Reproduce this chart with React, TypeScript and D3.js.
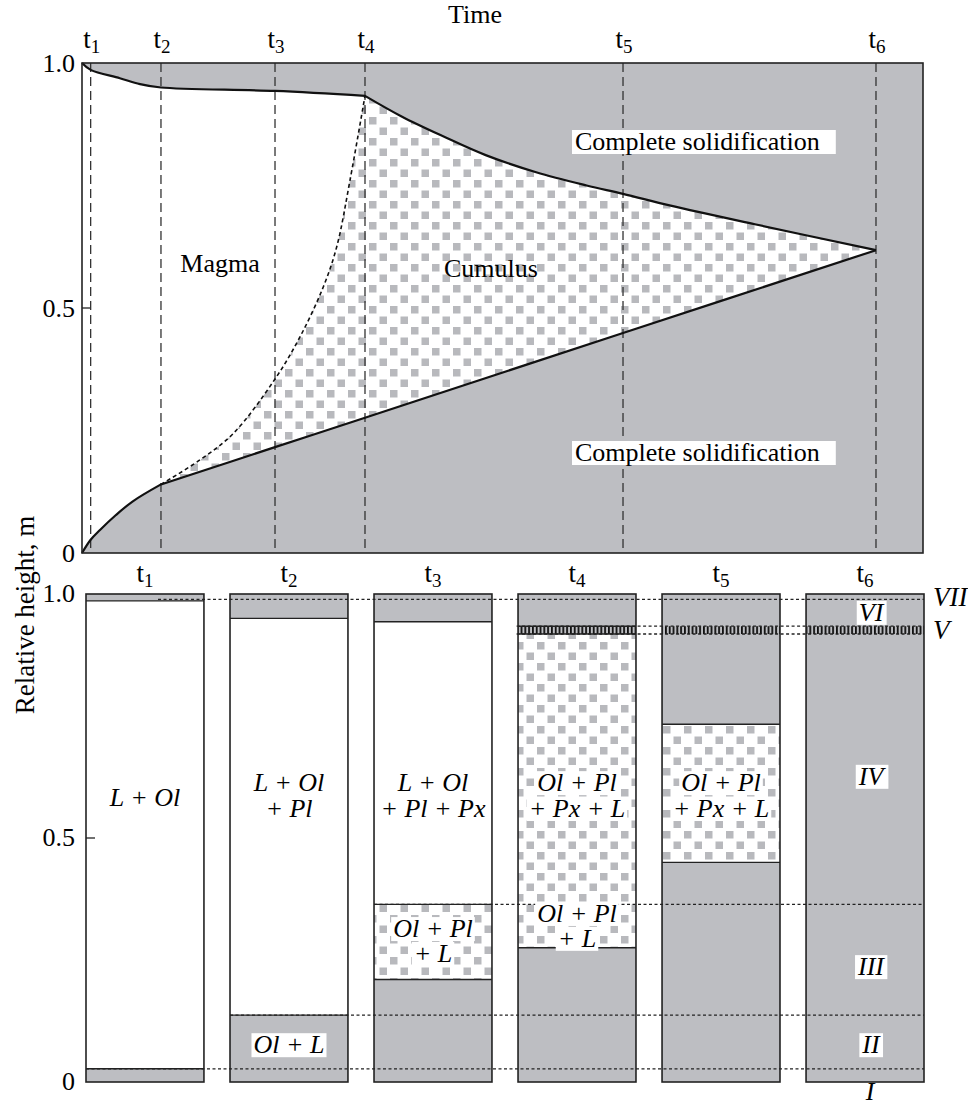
import React, { useEffect, useRef } from 'react';
import * as d3 from 'd3';

// time marks (arbitrary units, 0..100 across the top panel)
const tNames = ['1', '2', '3', '4', '5', '6'];
const tTimes = [1.03, 9.39, 22.95, 33.65, 64.33, 94.41];

// roof solidification front
const roofEarly = [[0, 1.0], [1.03, 0.986], [4.5, 0.969], [6.9, 0.957], [9.39, 0.95], [22.95, 0.943], [33.65, 0.933]];
const roofLate = [[33.65, 0.933], [38, 0.891], [43, 0.85], [48, 0.812], [54, 0.777], [60, 0.75], [64.33, 0.733], [70, 0.709], [80, 0.671], [94.41, 0.618]];
// floor solidification front
const floorEarly = [[0, 0], [1.03, 0.027], [2.14, 0.047], [4.0, 0.077], [6.0, 0.105], [9.39, 0.14]];
const floorLate = [[9.39, 0.14], [22.95, 0.216], [33.65, 0.276], [64.33, 0.449], [94.41, 0.618]];
// cumulus top (dashed)
const cumulusFront = [[9.39, 0.14], [14.03, 0.19], [17.99, 0.244], [22.95, 0.355], [25.92, 0.441], [28.69, 0.543], [30.29, 0.625], [31.87, 0.761], [33.65, 0.933]];

// columns: [from, to, kind]  g = solid, w = magma, c = cumulus, h = layer V, s = layer V overlay
const columns = [
  [[0, 0.027, 'g'], [0.027, 0.986, 'w'], [0.986, 1, 'g']],
  [[0, 0.137, 'g'], [0.137, 0.95, 'w'], [0.95, 1, 'g']],
  [[0, 0.21, 'g'], [0.21, 0.364, 'c'], [0.364, 0.943, 'w'], [0.943, 1, 'g']],
  [[0, 0.275, 'g'], [0.275, 0.918, 'c'], [0.918, 0.934, 'h'], [0.934, 1, 'g']],
  [[0, 0.45, 'g'], [0.45, 0.733, 'c'], [0.733, 1, 'g'], [0.918, 0.934, 's']],
  [[0, 1, 'g'], [0.918, 0.934, 's']],
];

// column labels: [column, text, relative height of baseline, white background]
const colLabels: [number, string, number, boolean][] = [
  [0, 'L + Ol', 0.566, false],
  [1, 'L + Ol', 0.596, false], [1, '+ Pl', 0.543, false], [1, 'Ol + L', 0.059, true],
  [2, 'L + Ol', 0.596, false], [2, '+ Pl + Px', 0.543, false], [2, 'Ol + Pl', 0.297, true], [2, '+ L', 0.246, true],
  [3, 'Ol + Pl', 0.596, true], [3, '+ Px + L', 0.543, true], [3, 'Ol + Pl', 0.328, true], [3, '+ L', 0.277, true],
  [4, 'Ol + Pl', 0.596, true], [4, '+ Px + L', 0.543, true],
];

// layer boundaries (dotted) and layer names
const layerLevels = [0.989, 0.934, 0.918, 0.364, 0.137, 0.027];
const layerStartCol = [0.5, 2.99, 2.99, 2, 1, 0];
const layerNames = ['VI', 'IV', 'III', 'II'];
const layerNameY = [0.945, 0.609, 0.219, 0.059];

const GRAY = '#bdbec2';
const FONT = 'Liberation Serif, DejaVu Serif, Times New Roman, serif';

export default function App() {
  const ref = useRef<SVGSVGElement>(null);

  const x = d3.scaleLinear().domain([0, 100]).range([82, 923]);
  const yT = d3.scaleLinear().domain([0, 1]).range([553, 63]);
  const yB = d3.scaleLinear().domain([0, 1]).range([1082, 594]);
  const band = d3.scaleBand<string>().domain(tNames).range([86, 924]).paddingInner(0.181).paddingOuter(0);
  const bw = band.bandwidth();

  const lineGen = d3
    .line<number[]>()
    .x((d) => x(d[0]))
    .y((d) => yT(d[1]))
    .curve(d3.curveCatmullRom.alpha(0.5));
  const seg = (p: number[][]) => lineGen(p) as string;
  const cont = (p: number[][]) => seg(p).replace(/^M/, 'L');
  const rev = (p: number[][]) => [...p].reverse();

  const checkerPath = seg(roofEarly) + cont(roofLate) + cont(rev(floorLate)) + cont(rev(floorEarly)) + 'Z';
  const magmaPath = seg(roofEarly) + cont(rev(cumulusFront)) + cont(rev(floorEarly)) + 'Z';

  useEffect(() => {
    document.body.style.margin = '0';
    const svg = d3.select(ref.current);
    svg.selectAll('rect.bgrect').remove();
    svg.selectAll<SVGTextElement, unknown>('text.bg').each(function () {
      const b = this.getBBox();
      const pl = +(this.getAttribute('data-pl') || 2);
      const pr = +(this.getAttribute('data-pr') || 2);
      d3.select(this.parentNode as SVGGElement)
        .insert('rect', () => this)
        .attr('class', 'bgrect')
        .attr('x', b.x - pl)
        .attr('y', b.y + 3)
        .attr('width', b.width + pl + pr)
        .attr('height', b.height - 5)
        .attr('fill', '#fff');
    });
  }, []);

  const fillOf = (k: string) => (k === 'g' ? GRAY : k === 'w' ? '#fff' : k === 'c' ? 'url(#checker)' : 'url(#hatch)');

  const tLabel = (n: string, cx: number, y: number, key: string) => (
    <text key={key} x={cx} y={y} textAnchor="middle" fontSize={27}>
      <tspan>t</tspan>
      <tspan dy={5} fontSize={19}>{n}</tspan>
    </text>
  );

  return (
    <svg ref={ref} width={968} height={1107} fontFamily={FONT} style={{ display: 'block' }}>
      <defs>
        <pattern id="checker" patternUnits="userSpaceOnUse" width={21} height={21}>
          <rect width={21} height={21} fill="#fff" />
          <rect x={1.5} y={1.5} width={7.5} height={7.5} fill="#b8b9bd" />
          <rect x={12} y={12} width={7.5} height={7.5} fill="#b8b9bd" />
        </pattern>
        <pattern id="hatch" patternUnits="userSpaceOnUse" width={3.8} height={10}>
          <rect width={3.8} height={10} fill={GRAY} />
          <rect width={1.8} height={10} fill="#111" />
        </pattern>
      </defs>

      {/* top panel */}
      <text x={475} y={23} textAnchor="middle" fontSize={26}>Time</text>
      {tTimes.map((t, i) => tLabel(tNames[i], x(t) + 1, 48, 'tt' + i))}
      <rect x={82} y={63} width={841} height={490} fill={GRAY} />
      <path d={checkerPath} fill="url(#checker)" />
      <path d={magmaPath} fill="#fff" />
      {tTimes.map((t, i) => (
        <line key={'vl' + i} x1={x(t)} x2={x(t)} y1={63} y2={553} stroke="#333" strokeWidth={1.3} strokeDasharray="9,5" />
      ))}
      <path d={seg(cumulusFront)} fill="none" stroke="#111" strokeWidth={1.6} strokeDasharray="4,3" />
      <path d={seg(roofEarly) + cont(roofLate)} fill="none" stroke="#111" strokeWidth={2.2} />
      <path d={seg(floorEarly) + cont(floorLate)} fill="none" stroke="#111" strokeWidth={2.2} />
      <rect x={82} y={63} width={841} height={490} fill="none" stroke="#222" strokeWidth={1.6} />
      <line x1={82} x2={90} y1={yT(0.5)} y2={yT(0.5)} stroke="#222" strokeWidth={1.3} />
      {[1, 0.5, 0].map((v) => (
        <text key={'yt' + v} x={75} y={yT(v)} dy="0.36em" textAnchor="end" fontSize={26}>
          {v === 0 ? '0' : v.toFixed(1)}
        </text>
      ))}
      <g>
        <text x={220} y={272} textAnchor="middle" fontSize={26}>Magma</text>
        <text x={491} y={277} textAnchor="middle" fontSize={26}>Cumulus</text>
        <text className="bg" data-pl={3} data-pr={16} x={575} y={150} fontSize={26}>Complete solidification</text>
        <text className="bg" data-pl={3} data-pr={16} x={575} y={461} fontSize={26}>Complete solidification</text>
      </g>

      {/* y-axis title */}
      <text transform="translate(34,615) rotate(-90)" textAnchor="middle" fontSize={27}>Relative height, m</text>

      {/* bottom panel */}
      {tNames.map((n, i) => tLabel(n, (band(n) as number) + bw / 2, 582, 'tb' + i))}
      {columns.map((layers, ci) => {
        const x0 = band(tNames[ci]) as number;
        return (
          <g key={'col' + ci}>
            {layers.map((l, li) => (
              <rect key={li} x={x0} width={bw} y={yB(l[1] as number)} height={yB(l[0] as number) - yB(l[1] as number)} fill={fillOf(l[2] as string)} />
            ))}
            {layers
              .filter((l) => l[2] !== 's' && (l[0] as number) > 0)
              .map((l, li) => (
                <line key={'b' + li} x1={x0} x2={x0 + bw} y1={yB(l[0] as number)} y2={yB(l[0] as number)} stroke="#222" strokeWidth={1.4} />
              ))}
            <rect x={x0} y={yB(1)} width={bw} height={yB(0) - yB(1)} fill="none" stroke="#222" strokeWidth={1.6} />
          </g>
        );
      })}
      <line x1={band('1') as number} x2={(band('1') as number) + 9} y1={yB(0.5)} y2={yB(0.5)} stroke="#222" strokeWidth={1.3} />
      {layerLevels.map((v, i) => {
        const c = layerStartCol[i];
        const ci = Math.floor(c);
        const x0 = (band(tNames[ci]) as number) + (c - ci) * band.step();
        return <line key={'dl' + i} x1={x0} x2={924} y1={yB(v)} y2={yB(v)} stroke="#222" strokeWidth={1.3} strokeDasharray="3,2.5" />;
      })}
      {[1, 0.5, 0].map((v) => (
        <text key={'yb' + v} x={75} y={yB(v)} dy="0.3em" textAnchor="end" fontSize={26}>
          {v === 0 ? '0' : v.toFixed(1)}
        </text>
      ))}
      <g fontStyle="italic" fontSize={26}>
        {colLabels.map(([ci, s, v, bg], i) => (
          <text key={'cl' + i} className={bg ? 'bg' : undefined} x={(band(tNames[ci]) as number) + bw / 2} y={yB(v)} textAnchor="middle">
            {s}
          </text>
        ))}
        {layerNames.map((s, i) => (
          <text key={'ln' + i} className="bg" x={(band('6') as number) + bw / 2 + 6} y={yB(layerNameY[i])} textAnchor="middle">
            {s}
          </text>
        ))}
        <text x={933} y={yB(0.989) + 7} fontSize={27}>VII</text>
        <text x={933} y={yB(0.926) + 9} fontSize={27}>V</text>
        <text x={(band('6') as number) + bw / 2 + 5} y={1100} textAnchor="middle" fontSize={26}>I</text>
      </g>
    </svg>
  );
}
